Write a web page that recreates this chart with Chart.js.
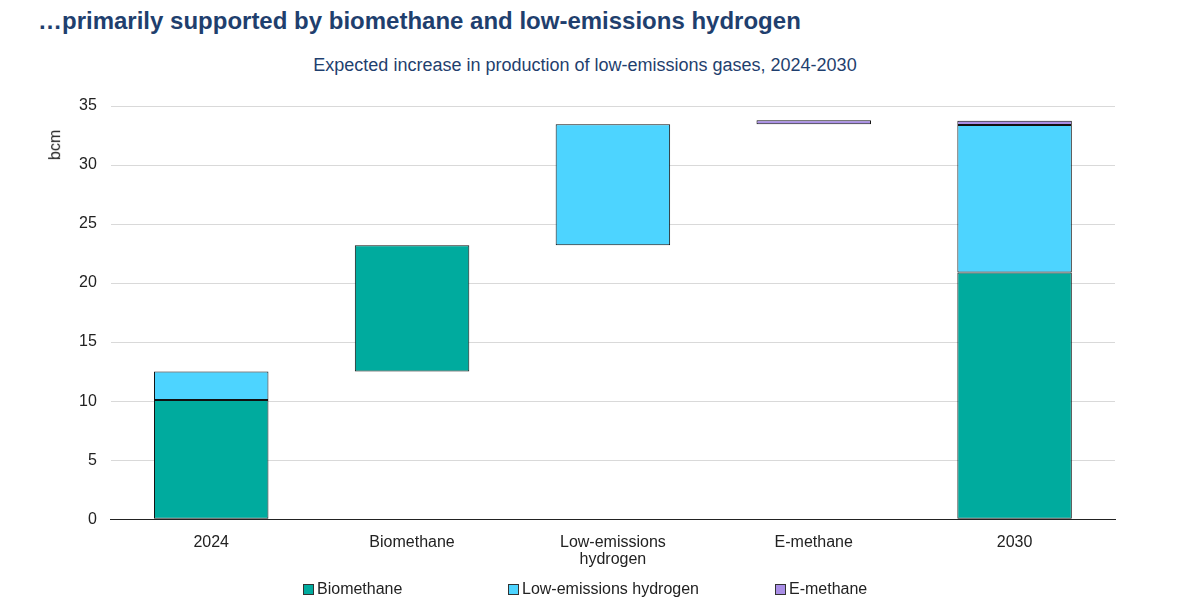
<!DOCTYPE html>
<html>
<head>
<meta charset="utf-8">
<script src="https://cdn.jsdelivr.net/npm/chart.js@4"></script>
<style>
  body { margin: 0; background: #fff; font-family: "Liberation Sans", Arial, sans-serif; }
  #wrap { position: relative; width: 1195px; height: 613px; }
  #title { position: absolute; left: 38px; top: 7px; font-size: 24px; font-weight: bold; color: #1f3f6e; white-space: nowrap; }
  #subtitle { position: absolute; left: 0; width: 1170px; top: 55px; text-align: center; font-size: 18px; color: #1f3f6e; }
  #ytitle { position: absolute; left: 40px; top: 136px; font-size: 16px; color: #222; transform: rotate(-90deg); transform-origin: center; }
  #legend { position: absolute; top: 580px; left: 0; font-size: 16px; color: #222; }
  .item { position: absolute; white-space: nowrap; display: flex; align-items: center; }
  .box { width: 9px; height: 9px; border: 1px solid #333; margin-right: 3px; }
  canvas { position: absolute; left: 0; top: 0; }
</style>
</head>
<body>
<div id="wrap">
  <div id="title">…primarily supported by biomethane and low-emissions hydrogen</div>
  <div id="subtitle">Expected increase in production of low-emissions gases, 2024-2030</div>
  <canvas id="chart" width="1195" height="613"></canvas>
  <div id="ytitle">bcm</div>
  <div id="legend"></div>
</div>
<script>
// 数据
const categories = ['2024', 'Biomethane', ['Low-emissions', 'hydrogen'], 'E-methane', '2030'];
const stepType = ['total', 'step', 'step', 'step', 'total'];
const biomethane = [10.1, 10.7, 0, 0, 20.9];
const hydrogen = [2.4, 0, 10.25, 0, 12.5];
const eMethane = [0, 0, 0, 0.35, 0.35];
const yTicks = [0, 5, 10, 15, 20, 25, 30, 35];

// 计算浮动区间
const seriesList = [biomethane, hydrogen, eMethane];
const ranges = seriesList.map(() => []);
let running = 0;
categories.forEach((c, i) => {
  let base = stepType[i] === 'total' ? 0 : running;
  seriesList.forEach((s, k) => {
    const v = s[i];
    if (v > 0) {
      ranges[k].push([base, base + v]);
      base += v;
    } else {
      ranges[k].push(null);
    }
  });
  if (stepType[i] === 'step' || i === 0) running = base;
});

const colors = ['#00ab9e', '#4dd4ff', '#a98ee6'];
const names = ['Biomethane', 'Low-emissions hydrogen', 'E-methane'];

// 图例
const legendX = [303, 508, 775];
const legend = document.getElementById('legend');
names.forEach((n, k) => {
  const item = document.createElement('div');
  item.className = 'item';
  item.style.left = legendX[k] + 'px';
  item.innerHTML = `<span class="box" style="background:${colors[k]}"></span>${n}`;
  legend.appendChild(item);
});

new Chart(document.getElementById('chart'), {
  type: 'bar',
  data: {
    labels: categories,
    datasets: names.map((n, k) => ({
      label: n,
      data: ranges[k],
      backgroundColor: colors[k],
      borderColor: '#111',
      borderWidth: 1,
      borderSkipped: false,
      barPercentage: 0.57,
      categoryPercentage: 1,
    }))
  },
  options: {
    responsive: false,
    animation: false,
    layout: { padding: { top: 106, left: 65, right: 80, bottom: 38 } },
    plugins: {
      legend: { display: false },
      tooltip: { enabled: false }
    },
    scales: {
      x: {
        stacked: true,
        grid: { display: false },
        border: { color: '#222', width: 1 },
        ticks: { padding: 6, color: '#222', font: { family: 'Liberation Sans', size: 16, lineHeight: 1.12 }, maxRotation: 0 }
      },
      y: {
        stacked: false,
        min: 0,
        max: 35,
        afterBuildTicks: (axis) => { axis.ticks = yTicks.map(v => ({ value: v })); },
        grid: { color: '#d9d9d9', drawTicks: false },
        border: { display: false },
        ticks: { padding: 14, color: '#222', font: { family: 'Liberation Sans', size: 16 } }
      }
    }
  }
});
</script>
</body>
</html>
